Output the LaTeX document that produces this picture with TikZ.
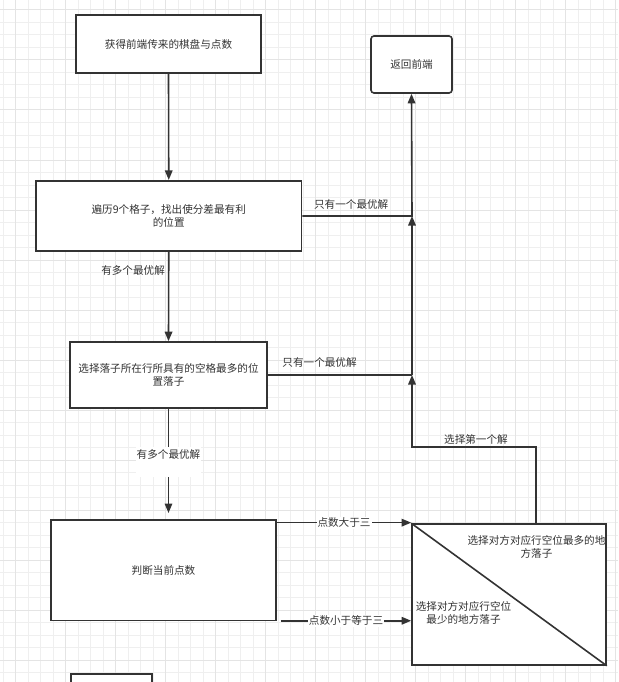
\documentclass[tikz,border=0pt]{standalone}
\usepackage{fontspec}
\setmainfont{Noto Sans CJK SC}
\usetikzlibrary{arrows.meta,calc}
\definecolor{ln}{HTML}{333333}
\definecolor{gmin}{HTML}{EFEFEF}
\definecolor{gmaj}{HTML}{E4E4E4}
\begin{document}
\begin{tikzpicture}[x=1pt,y=-1pt,
  txt/.style={text=ln,font=\fontsize{10.6}{13.4}\selectfont,align=center},
  box/.style={draw=ln,line width=1.6pt,fill=white,inner sep=0pt,txt},
  rbox/.style={box,rounded corners=3pt},
  conn/.style={draw=ln,line width=1.6pt},
  arr/.style={conn,-{Triangle[length=9.5pt,width=7.5pt]}},
  lbl/.style={txt,inner sep=1pt}]
\clip (0,0) rectangle (618,682);
\fill[white] (0,0) rectangle (618,682);
% grid
\foreach \x in {3.2,15.7,...,618} {\draw[gmin,line width=1pt] (\x,0) -- (\x,682);}
\foreach \y in {10,22.5,...,682} {\draw[gmin,line width=1pt] (0,\y) -- (618,\y);}
\foreach \x in {15.7,65.7,...,618} {\draw[gmaj,line width=1pt] (\x,0) -- (\x,682);}
\foreach \y in {10,60,...,682} {\draw[gmaj,line width=1pt] (0,\y) -- (618,\y);}
% nodes
\node[box,minimum width=185pt,minimum height=58pt] (b1) at (168.5,44) {获得前端传来的棋盘与点数};
\node[rbox,minimum width=81pt,minimum height=57pt] (ret) at (411.5,64.5) {返回前端};
\node[box,minimum width=265.5pt,minimum height=70.5pt] (b2) at (168.75,216) {遍历9个格子，找出使分差最有利\\的位置};
\node[box,minimum width=197pt,minimum height=66pt] (b3) at (168.5,375) {选择落子所在行所具有的空格最多的位\\置落子};
\node[box,minimum width=225pt,minimum height=100.7pt] (b4) at (163.5,570.3) {判断当前点数};
\node[box,minimum width=194pt,minimum height=141pt] (b5) at (509,594.5) {};
\node[box,minimum width=81pt,minimum height=57pt] (b6) at (111.5,702.5) {};
\draw[conn] (b5.north west) -- (b5.south east);
\node[txt] (t5a) at (536.5,547) {选择对方对应行空位最多的地\\方落子};
\node[txt] (t5b) at (463.5,613) {选择对方对应行空位\\最少的地方落子};
% junctions
\coordinate (j1) at (412,216);
\coordinate (j2) at (412,375);
\coordinate (j3) at (412,447);
\coordinate (j4) at (536,447);
\coordinate (b5top) at (536,524);
\coordinate (d4) at (168.5,513);
% connectors
\draw[arr] (b1.south) -- (b2.north);
\draw[arr] (b2.east) -- node[lbl,pos=0.446,yshift=12pt] {只有一个最优解} (j1) -- (ret.south);
\draw[arr] (b2.south) -- node[lbl,pos=0.21,anchor=east,xshift=-2pt] {有多个最优解} (b3.north);
\draw[conn] (b3.east) -- node[lbl,pos=0.359,yshift=13pt] {只有一个最优解} (j2);
\draw[arr] (j2) -- (j1);
\draw[arr] (b5top) -- (j4) -- node[lbl,pos=0.484,yshift=8pt] {选择第一个解} (j3) -- (j2);
\draw[arr] (b3.south) -- (d4);
\node[lbl,fill=white,anchor=north,inner ysep=2pt,text depth=17pt] (l34) at (168.5,447) {有多个最优解};
\draw[arr] (b4.north east) ++(0,3.5) coordinate (a1s) -- node[lbl,fill=white] {点数大于三} (a1s -| b5.west);
\draw[arr] (b4.south east) ++(4,-0.7) coordinate (a2s) -- node[lbl,fill=white] {点数小于等于三} (a2s -| b5.west);
\end{tikzpicture}
\end{document}
